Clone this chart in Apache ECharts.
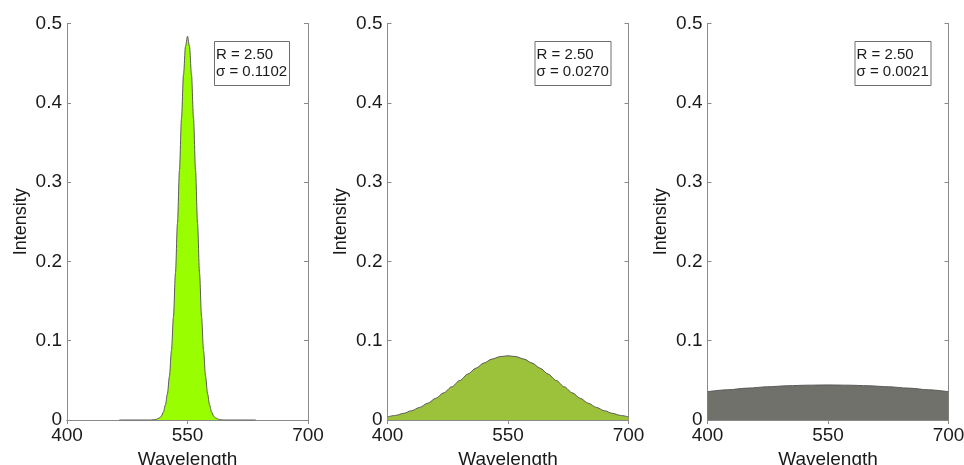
<!DOCTYPE html>
<html>
<head>
<meta charset="utf-8">
<script src="https://cdn.jsdelivr.net/npm/echarts@6/dist/echarts.min.js"></script>
<style>
	html, body { margin: 0; padding: 0; background: #fff; }
	#main { width: 964px; height: 465px; }
</style>
</head>
<body>
<div id="main"></div>
<script>
// wavelength ticks and intensity ticks shared by all three panels
var xTicks = [400, 550, 700];
var yTicks = [0, 0.1, 0.2, 0.3, 0.4, 0.5];

// panel 1 : narrow peak (R = 2.50, sigma = 0.1102)
var wave1 = [465, 505, 510, 515, 517.5, 520, 522.5, 525, 527.5, 530, 532.5, 535, 537.5, 540, 542.5, 545, 547.5,
	550, 552.5, 555, 557.5, 560, 562.5, 565, 567.5, 570, 572.5, 575, 577.5, 580, 582.5, 585, 590, 595, 635];
var inten1 = [0, 0, 0.0005, 0.0025, 0.005, 0.010, 0.019, 0.033, 0.055, 0.087, 0.130, 0.185, 0.248, 0.315, 0.380, 0.435, 0.471,
	0.484, 0.471, 0.435, 0.380, 0.315, 0.248, 0.185, 0.130, 0.087, 0.055, 0.033, 0.019, 0.010, 0.005, 0.0025, 0.0005, 0, 0];

// panel 2 : broad peak (sigma = 0.0270)
var wave2 = [400, 410, 420, 430, 440, 450, 460, 470, 480, 490, 500, 510, 520, 530, 540,
	550, 560, 570, 580, 590, 600, 610, 620, 630, 640, 650, 660, 670, 680, 690, 700];
var inten2 = [0.0039, 0.0058, 0.0084, 0.0117, 0.0159, 0.0211, 0.0273, 0.0343, 0.0419, 0.0499, 0.0579, 0.0653, 0.0718, 0.0768, 0.0799,
	0.0810, 0.0799, 0.0768, 0.0718, 0.0653, 0.0579, 0.0499, 0.0419, 0.0343, 0.0273, 0.0211, 0.0159, 0.0117, 0.0084, 0.0058, 0.0039];

// panel 3 : almost flat (sigma = 0.0021)
var wave3 = [400, 425, 450, 475, 500, 525, 550, 575, 600, 625, 650, 675, 700];
var inten3 = [0.0357, 0.0381, 0.0402, 0.0419, 0.0432, 0.0439, 0.0442, 0.0439, 0.0432, 0.0419, 0.0402, 0.0381, 0.0357];

var labels = ['R = 2.50\nσ = 0.1102', 'R = 2.50\nσ = 0.0270', 'R = 2.50\nσ = 0.0021'];
var fills = ['#99ff00', '#9cc13b', '#70716b'];
var panelLeft = [67, 387.5, 707.5];

var font = '"Liberation Sans", Arial, sans-serif';
var axisColor = '#8a8a8a';

function pairs(xs, ys) {
	var out = [];
	for (var i = 0; i < xs.length; i++) {
		out.push([xs[i], ys[i]]);
	}
	return out;
}

var waves = [wave1, wave2, wave3];
var intens = [inten1, inten2, inten3];

var grid = [], xAxis = [], yAxis = [], series = [], title = [];

for (var p = 0; p < 3; p++) {
	grid.push({
		left : panelLeft[p],
		top : 23.5,
		width : 241,
		height : 396.5,
		containLabel : false,
		outerBoundsMode : 'none'
	});
	// bottom axis with labels
	xAxis.push({
		type : 'value',
		gridIndex : p,
		min : 400,
		max : 700,
		position : 'bottom',
		name : 'Wavelength',
		nameLocation : 'middle',
		nameGap : 25,
		nameTextStyle : { fontFamily : font, fontSize : 19, color : '#1a1a1a' },
		axisLine : { show : true, lineStyle : { color : axisColor, width : 1 } },
		axisTick : { show : true, inside : true, length : 4, customValues : xTicks, lineStyle : { color : axisColor } },
		axisLabel : { show : true, customValues : xTicks, margin : 6, fontFamily : font, fontSize : 19, color : '#1a1a1a' },
		splitLine : { show : false }
	});
	// top mirror axis
	xAxis.push({
		type : 'value',
		gridIndex : p,
		min : 400,
		max : 700,
		position : 'top',
		axisLine : { show : true, lineStyle : { color : axisColor, width : 1 } },
		axisTick : { show : true, inside : true, length : 4, customValues : xTicks, lineStyle : { color : axisColor } },
		axisLabel : { show : false },
		splitLine : { show : false }
	});
	yAxis.push({
		type : 'value',
		gridIndex : p,
		min : 0,
		max : 0.5,
		interval : 0.1,
		position : 'left',
		name : 'Intensity',
		nameLocation : 'middle',
		nameGap : 37,
		nameTextStyle : { fontFamily : font, fontSize : 18, color : '#1a1a1a' },
		axisLine : { show : true, lineStyle : { color : axisColor, width : 1 } },
		axisTick : { show : true, inside : true, length : 4, lineStyle : { color : axisColor } },
		axisLabel : { show : true, margin : 5, fontFamily : font, fontSize : 19, color : '#1a1a1a' },
		splitLine : { show : false }
	});
	yAxis.push({
		type : 'value',
		gridIndex : p,
		min : 0,
		max : 0.5,
		interval : 0.1,
		position : 'right',
		axisLine : { show : true, lineStyle : { color : axisColor, width : 1 } },
		axisTick : { show : true, inside : true, length : 4, lineStyle : { color : axisColor } },
		axisLabel : { show : false },
		splitLine : { show : false }
	});
	series.push({
		type : 'line',
		xAxisIndex : p * 2,
		yAxisIndex : p * 2,
		data : pairs(waves[p], intens[p]),
		smooth : 0.3,
		smoothMonotone : 'x',
		showSymbol : false,
		silent : true,
		lineStyle : { color : '#5a5a5a', width : 1 },
		areaStyle : { color : fills[p], opacity : 1, origin : 'start' },
		z : 1
	});
	title.push({
		text : labels[p],
		left : panelLeft[p] + 147,
		top : 41,
		padding : [5, 3, 5, 2],
		borderColor : '#6e6e6e',
		borderWidth : 1,
		backgroundColor : '#fff',
		textStyle : { fontFamily : font, fontSize : 15, lineHeight : 17.5, fontWeight : 'normal', color : '#1a1a1a' }
	});
}

var chart = echarts.init(document.getElementById('main'));
chart.setOption({
	backgroundColor : '#fff',
	animation : false,
	title : title,
	grid : grid,
	xAxis : xAxis,
	yAxis : yAxis,
	series : series
});
</script>
</body>
</html>
